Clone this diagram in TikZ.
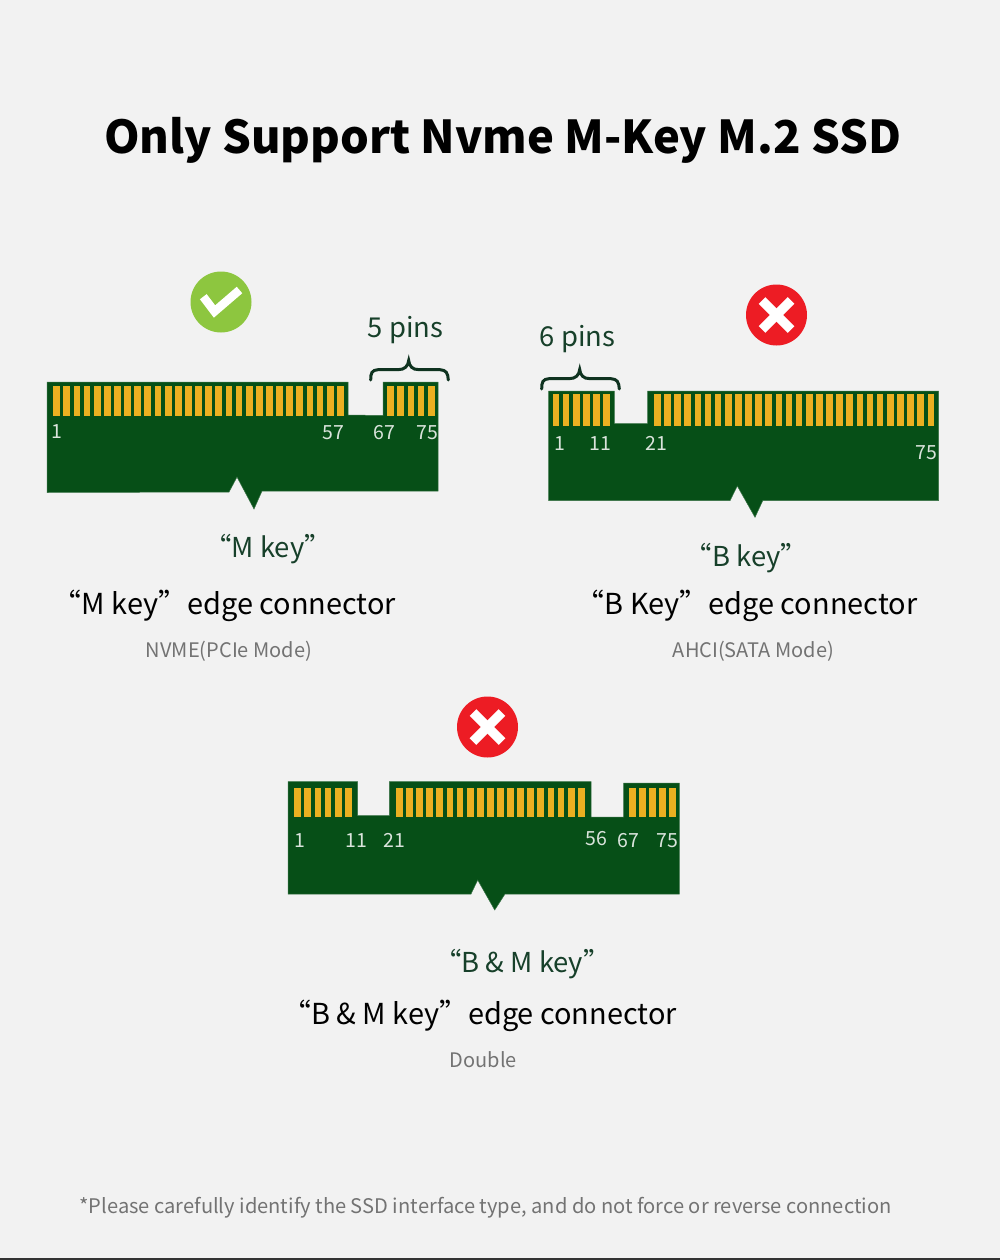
\documentclass[tikz,border=0pt]{standalone}
\usepackage{fontspec}
\setmainfont{Noto Sans CJK SC}
\definecolor{pagebg}{HTML}{F2F2F2}
\definecolor{boardgreen}{HTML}{064F17}
\definecolor{pingold}{HTML}{EBB021}
\definecolor{okgreen}{HTML}{8DC63F}
\definecolor{badred}{HTML}{ED1C24}
\definecolor{keygreen}{HTML}{17402A}
\definecolor{bracegreen}{HTML}{0F3320}
\begin{document}
\begin{tikzpicture}[x=1pt, y=-1pt]
% Define styles
\tikzstyle{board} = [fill=boardgreen, draw=boardgreen!80!white, line width=0.5pt]
\tikzstyle{pin} = [fill=pingold, draw=none]
\tikzstyle{pinno} = [text=white!85!boardgreen, font=\fontsize{19.5}{19.5}\selectfont, inner sep=0pt]
\tikzstyle{keyname} = [text=keygreen, font=\fontsize{27.4}{27.4}\selectfont, inner sep=0pt]
\tikzstyle{caption} = [text=black, font=\fontsize{28.9}{28.9}\selectfont, inner sep=0pt]
\tikzstyle{mode} = [text=black!55, font=\fontsize{20}{20}\selectfont, inner sep=0pt]
\tikzstyle{pinbrace} = [draw=bracegreen, line width=3pt, line cap=round]
\tikzstyle{badge} = [circle, draw=none, minimum size=61pt, inner sep=0pt]

% Background
\fill [pagebg] (0,0) rectangle (1000,1260);
\useasboundingbox (0,0) rectangle (1000,1260);
\fill [black!80] (0,1258) rectangle (1000,1260);

% Title
\node [inner sep=0pt, font=\fontsize{45.3}{45.3}\selectfont\bfseries] (title) at (502.5,140) {Only Support Nvme M-Key M.2 SSD};

% M key board
\draw [board] (47,382) -- (348,382) -- (348,415) -- (383,415.5) -- (383,382) -- (438,382) -- (438,491) -- (262,491) -- (254,509) -- (237,477) -- (229,492) -- (47,492.5) -- cycle;
\foreach \i in {0,...,28} \fill [pin] (53.3+10.13*\i,385.7) rectangle +(6.8,30);
\foreach \i in {0,...,4} \fill [pin] (387.3+10.1*\i,385.7) rectangle +(6.8,30);
\node [pinno] (mone) at (57,432) {1};
\node [pinno] (mfiftyseven) at (333.5,433) {57};
\node [pinno] (msixtyseven) at (384.5,433) {67};
\node [pinno] (mseventyfive) at (427.5,433) {75};

% B key board
\draw [board] (548.7,391) -- (614.3,391) -- (614.3,423.5) -- (647.7,423.5) -- (647.7,391) -- (938.7,391) -- (938.7,500.7) -- (762.7,500.7) -- (755,517.3) -- (737.3,486) -- (730,500.7) -- (548.7,500.7) -- cycle;
\foreach \i in {0,...,5} \fill [pin] (552.7+10.1*\i,394.3) rectangle +(6.6,31.7);
\foreach \i in {0,...,27} \fill [pin] (654+10.13*\i,394.3) rectangle +(6.6,31.7);
\node [pinno] (bone) at (559.5,444) {1};
\node [pinno] (beleven) at (600.5,444) {11};
\node [pinno] (btwentyone) at (656,443) {21};
\node [pinno] (bseventyfive) at (926,453) {75};

% B and M key board
\draw [board] (288,781.7) -- (357.7,781.7) -- (357.7,815.7) -- (389.3,815.7) -- (389.3,781.7) -- (591,781.7) -- (591,817) -- (623.7,817) -- (623.7,783) -- (679.3,783) -- (679.3,894) -- (505,894) -- (494.7,910) -- (477.7,880) -- (471,894) -- (288,894) -- cycle;
\foreach \i in {0,...,5} \fill [pin] (294.3+10.1*\i,788) rectangle +(6.8,29);
\foreach \i in {0,...,18} \fill [pin] (396+10.1*\i,788) rectangle +(6.8,29);
\foreach \i in {0,...,4} \fill [pin] (629+10.1*\i,788) rectangle +(6.8,29);
\node [pinno] (done) at (300,840.5) {1};
\node [pinno] (deleven) at (356.5,840.5) {11};
\node [pinno] (dtwentyone) at (394,840.5) {21};
\node [pinno] (dfiftysix) at (596,839) {56};
\node [pinno] (dsixtyseven) at (628,840.5) {67};
\node [pinno] (dseventyfive) at (667,840.5) {75};

% Pin braces
\node [keyname] (fivepins) at (405.5,330) {5 pins};
\node [keyname] (sixpins) at (577.5,339) {6 pins};
\foreach \dx/\dy in {0/0, 171/9} {
  \begin{scope}[shift={(\dx,\dy)}]
    \draw [pinbrace] (370.7,380) .. controls (370.5,373) and (372,370) .. (378,369.7) -- (398,369.7) .. controls (405,369.7) and (408,366) .. (408.7,360.5) .. controls (409.4,366) and (412,369.7) .. (419,369.7) -- (440,369.7) .. controls (446,370) and (448,373) .. (448.3,380);
  \end{scope}
}

% Badges
\node [badge, fill=okgreen] (okbadge) at (221,302) {};
\node [badge, fill=badred] (badb) at (776.5,315) {};
\node [badge, fill=badred] (baddouble) at (487.5,727) {};
\draw [white, line width=8.5pt] (203.3,296.7) -- (214.5,311.5) -- (239.5,290);
\foreach \b in {badb, baddouble} {
  \draw [white, line width=9.5pt] ([shift={(-14.5,-14.5)}]\b.center) -- ([shift={(14.5,14.5)}]\b.center);
  \draw [white, line width=9.5pt] ([shift={(-14.5,14.5)}]\b.center) -- ([shift={(14.5,-14.5)}]\b.center);
}

% Key names and captions
\node [keyname] (mkey) at (268,549) {“M key”};
\node [caption] (mcaption) at (224.5,606) {“M key”edge connector};
\node [mode] (mmode) at (229,651) {NVME(PCIe Mode)};
\node [keyname] (bkey) at (746.5,558) {“B key”};
\node [caption] (bcaption) at (746.5,606) {“B Key”edge connector};
\node [mode] (bmode) at (753.5,651) {AHCI(SATA Mode)};
\node [keyname] (dkey) at (522.5,964) {“B \& M key”};
\node [caption] (dcaption) at (479.5,1016) {“B \& M key”edge connector};
\node [mode] (dmode) at (483.5,1060) {Double};

% Footnote
\node [mode, font=\fontsize{20.1}{20.1}\selectfont] (footnote) at (485.5,1208) {*Please carefully identify the SSD interface type, and do not force or reverse connection};
\end{tikzpicture}
\end{document}
